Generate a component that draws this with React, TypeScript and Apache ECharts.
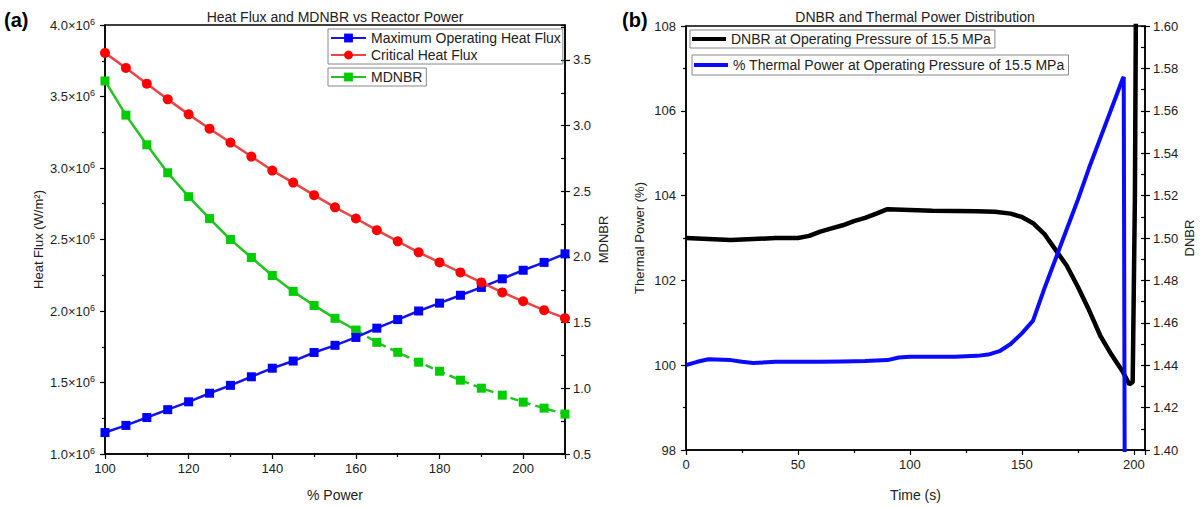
import React, { useEffect, useRef } from "react";
import * as echarts from "echarts";

// ---------- Panel (a) data ----------
const powerPct = [100, 105, 110, 115, 120, 125, 130, 135, 140, 145, 150, 155, 160, 165, 170, 175, 180, 185, 190, 195, 200, 205, 210];
const maxOpHeatFlux = [1.15e6, 1.2e6, 1.255e6, 1.31e6, 1.365e6, 1.425e6, 1.48e6, 1.54e6, 1.6e6, 1.65e6, 1.71e6, 1.76e6, 1.815e6, 1.88e6, 1.94e6, 2.0e6, 2.055e6, 2.11e6, 2.165e6, 2.225e6, 2.285e6, 2.34e6, 2.4e6];
const criticalHeatFlux = [3.805e6, 3.7e6, 3.59e6, 3.48e6, 3.375e6, 3.275e6, 3.178e6, 3.08e6, 2.982e6, 2.898e6, 2.81e6, 2.725e6, 2.647e6, 2.565e6, 2.487e6, 2.41e6, 2.34e6, 2.27e6, 2.2e6, 2.13e6, 2.068e6, 2.006e6, 1.95e6];
const mdnbr = [3.34, 3.08, 2.854, 2.641, 2.459, 2.292, 2.133, 1.996, 1.859, 1.738, 1.631, 1.533, 1.442, 1.35, 1.274, 1.199, 1.13, 1.062, 1.001, 0.948, 0.895, 0.849, 0.804];
const mdnbrDashedFrom = 160;

// ---------- Panel (b) data ----------
const dnbrTime = [0, 10, 20, 30, 40, 50, 55, 60, 65, 70, 75, 80, 85, 90, 100, 110, 120, 130, 138, 145, 150, 155, 160, 165, 170, 175, 180, 185, 190, 195, 198, 199.5, 200.5, 201];
const dnbrValues = [1.5, 1.4995, 1.499, 1.4995, 1.5, 1.5, 1.501, 1.503, 1.5045, 1.506, 1.508, 1.5095, 1.5115, 1.5136, 1.5132, 1.5128, 1.5127, 1.5126, 1.5124, 1.5115, 1.5099, 1.507, 1.502, 1.4945, 1.487, 1.477, 1.466, 1.454, 1.445, 1.437, 1.431, 1.432, 1.52, 1.62];
const thermalTime = [0, 5, 10, 20, 25, 30, 40, 50, 60, 70, 80, 90, 95, 100, 110, 120, 130, 135, 140, 145, 150, 155, 160, 165, 170, 175, 180, 185, 190, 195, 195.5, 196];
const thermalPower = [100.0, 100.08, 100.14, 100.12, 100.08, 100.05, 100.08, 100.08, 100.08, 100.09, 100.1, 100.12, 100.18, 100.2, 100.2, 100.2, 100.22, 100.25, 100.33, 100.5, 100.75, 101.05, 101.8, 102.5, 103.2, 103.9, 104.65, 105.35, 106.05, 106.75, 106.8, 96.0];

const FONT = "'Liberation Sans', Arial, sans-serif";
const TXT = "#222";

function pairs(xs: number[], ys: number[]) {
  return xs.map((x, i) => [x, ys[i]]);
}

export default function App() {
  const ref = useRef<HTMLDivElement>(null);

  useEffect(() => {
    document.body.style.margin = "0";
    if (!ref.current) return;
    const chart = echarts.init(ref.current, null, { renderer: "svg" });

    const mdnbrSolid = pairs(powerPct, mdnbr).filter((p) => p[0] <= mdnbrDashedFrom);
    const mdnbrDashed = pairs(powerPct, mdnbr).filter((p) => p[0] >= mdnbrDashedFrom);

    const axisLine = { show: true, lineStyle: { color: "#000", width: 1.5 } };
    const label = (fmt: any, extra: any = {}) => ({
      fontSize: 13,
      color: TXT,
      fontFamily: FONT,
      formatter: fmt,
      ...extra,
    });
    const nameStyle = (size: number) => ({ fontSize: size, color: TXT, fontFamily: FONT });

    const option: any = {
      animation: false,
      backgroundColor: "#fff",
      textStyle: { fontFamily: FONT },
      grid: [
        { left: 105, top: 25, width: 460, height: 431, show: true, borderColor: "#000", borderWidth: 1.5, backgroundColor: "transparent" },
        { left: 686, top: 26, width: 459, height: 426, show: true, borderColor: "#000", borderWidth: 1.5, backgroundColor: "transparent" },
      ],
      xAxis: [
        {
          type: "value", gridIndex: 0, min: 100, max: 210, interval: 20,
          axisLine, splitLine: { show: false },
          axisTick: { show: true, length: 5, lineStyle: { color: "#000", width: 1.2 } },
          minorTick: { show: true, splitNumber: 2, length: 3, lineStyle: { color: "#000", width: 1.2 } },
          axisLabel: label((v: number) => String(v), { showMaxLabel: false, margin: 8 }),
          name: "% Power", nameLocation: "middle", nameGap: 34, nameTextStyle: nameStyle(14),
        },
        {
          type: "value", gridIndex: 1, min: 0, max: 205, interval: 50,
          axisLine, splitLine: { show: false },
          axisTick: { show: true, length: 5, lineStyle: { color: "#000", width: 1.2 } },
          minorTick: { show: true, splitNumber: 2, length: 3, lineStyle: { color: "#000", width: 1.2 } },
          axisLabel: label((v: number) => String(v), { showMaxLabel: false, margin: 8 }),
          name: "Time (s)", nameLocation: "middle", nameGap: 38, nameTextStyle: nameStyle(14),
        },
      ],
      yAxis: [
        {
          type: "value", gridIndex: 0, position: "left", min: 1e6, max: 4e6, interval: 0.5e6,
          axisLine, splitLine: { show: false },
          axisTick: { show: true, length: 5, lineStyle: { color: "#000", width: 1.2 } },
          minorTick: { show: true, splitNumber: 2, length: 3, lineStyle: { color: "#000", width: 1.2 } },
          axisLabel: label((v: number) => `{b|${(v / 1e6).toFixed(1)}×10}{s|6}`, {
            margin: 10,
            rich: {
              b: { fontSize: 13, color: TXT, fontFamily: FONT, lineHeight: 16 },
              s: { fontSize: 9, color: TXT, fontFamily: FONT, verticalAlign: "top", lineHeight: 10 },
            },
          }),
          name: "Heat Flux (W/m²)", nameLocation: "middle", nameGap: 60, nameTextStyle: nameStyle(13),
        },
        {
          type: "value", gridIndex: 0, position: "right", min: 0.5, max: 3.766, interval: 0.5,
          axisLine, splitLine: { show: false },
          axisTick: { show: true, length: 5, lineStyle: { color: "#000", width: 1.2 } },
          axisLabel: label((v: number) => v.toFixed(1), { showMaxLabel: false, margin: 8 }),
          name: "MDNBR", nameLocation: "middle", nameGap: 32, nameTextStyle: nameStyle(13),
        },
        {
          type: "value", gridIndex: 0, position: "right", min: 0.5, max: 3.766, interval: 0.25,
          axisLine: { show: false }, splitLine: { show: false },
          axisTick: { show: true, inside: true, length: 4, lineStyle: { color: "#000", width: 1.2 } },
          axisLabel: { show: false },
        },
        {
          type: "value", gridIndex: 1, position: "left", min: 98, max: 108, interval: 2,
          axisLine, splitLine: { show: false },
          axisTick: { show: true, length: 5, lineStyle: { color: "#000", width: 1.2 } },
          minorTick: { show: true, splitNumber: 2, length: 3, lineStyle: { color: "#000", width: 1.2 } },
          axisLabel: label((v: number) => String(v), { margin: 10 }),
          name: "Thermal Power (%)", nameLocation: "middle", nameGap: 40, nameTextStyle: nameStyle(13),
        },
        {
          type: "value", gridIndex: 1, position: "right", min: 1.4, max: 1.6, interval: 0.02,
          axisLine, splitLine: { show: false },
          axisTick: { show: true, length: 5, lineStyle: { color: "#000", width: 1.2 } },
          axisLabel: label((v: number) => v.toFixed(2), { margin: 8 }),
          name: "DNBR", nameLocation: "middle", nameGap: 38, nameTextStyle: nameStyle(13),
        },
        {
          type: "value", gridIndex: 1, position: "right", min: 1.4, max: 1.6, interval: 0.01,
          axisLine: { show: false }, splitLine: { show: false },
          axisTick: { show: true, inside: true, length: 4, lineStyle: { color: "#000", width: 1.2 } },
          axisLabel: { show: false },
        },
      ],
      legend: [
        {
          left: 328, top: 29, orient: "vertical",
          data: ["Maximum Operating Heat Flux", "Critical Heat Flux"],
          borderColor: "#888", borderWidth: 1, padding: [2, 2, 2, 2],
          itemWidth: 35, itemHeight: 11, itemGap: 3,
          textStyle: { fontSize: 14, color: TXT, fontFamily: FONT },
        },
        {
          left: 328, top: 68, orient: "vertical",
          data: ["MDNBR"],
          borderColor: "#888", borderWidth: 1, padding: [2, 4, 2, 2],
          itemWidth: 35, itemHeight: 11, itemGap: 3,
          textStyle: { fontSize: 14, color: TXT, fontFamily: FONT },
        },
        {
          left: 690, top: 30, orient: "vertical",
          data: [{ name: "DNBR at Operating Pressure of 15.5 MPa", icon: "rect" }],
          borderColor: "#888", borderWidth: 1, padding: [2, 4, 2, 2],
          itemWidth: 34, itemHeight: 4, itemGap: 3,
          textStyle: { fontSize: 14, color: TXT, fontFamily: FONT },
        },
        {
          left: 692, top: 55, orient: "vertical",
          data: [{ name: "% Thermal Power at Operating Pressure of 15.5 MPa", icon: "rect" }],
          borderColor: "#888", borderWidth: 1, padding: [3, 4, 3, 2],
          itemWidth: 34, itemHeight: 4, itemGap: 3,
          textStyle: { fontSize: 14, color: TXT, fontFamily: FONT },
        },
      ],
      graphic: [
        { type: "text", x: 335, y: 17, style: { text: "Heat Flux and MDNBR vs Reactor Power", align: "center", verticalAlign: "middle", fontSize: 14, fill: TXT, fontFamily: FONT } },
        { type: "text", x: 915, y: 17, style: { text: "DNBR and Thermal Power Distribution", align: "center", verticalAlign: "middle", fontSize: 14, fill: TXT, fontFamily: FONT } },
        { type: "text", x: 4, y: 20, style: { text: "(a)", align: "left", verticalAlign: "middle", fontSize: 20, fontWeight: "bold", fill: "#000", fontFamily: FONT } },
        { type: "text", x: 622, y: 20, style: { text: "(b)", align: "left", verticalAlign: "middle", fontSize: 20, fontWeight: "bold", fill: "#000", fontFamily: FONT } },
      ],
      series: [
        {
          name: "Maximum Operating Heat Flux", type: "line", xAxisIndex: 0, yAxisIndex: 0,
          data: pairs(powerPct, maxOpHeatFlux),
          symbol: "rect", symbolSize: 9,
          lineStyle: { color: "#1414e6", width: 2.5 },
          itemStyle: { color: "#0000ff" },
          z: 3,
        },
        {
          name: "Critical Heat Flux", type: "line", xAxisIndex: 0, yAxisIndex: 0,
          data: pairs(powerPct, criticalHeatFlux),
          symbol: "circle", symbolSize: 10,
          lineStyle: { color: "#e84545", width: 2.5 },
          itemStyle: { color: "#ff0000" },
          z: 4,
        },
        {
          name: "MDNBR", type: "line", xAxisIndex: 0, yAxisIndex: 1,
          data: mdnbrSolid,
          symbol: "rect", symbolSize: 9,
          lineStyle: { color: "#22c322", width: 2.5 },
          itemStyle: { color: "#00cc00" },
          z: 2,
        },
        {
          name: "MDNBR", type: "line", xAxisIndex: 0, yAxisIndex: 1,
          data: mdnbrDashed,
          symbol: "rect", symbolSize: 9,
          lineStyle: { color: "#22c322", width: 2.5, type: [8, 5] },
          itemStyle: { color: "#00cc00" },
          z: 2,
        },
        {
          name: "DNBR at Operating Pressure of 15.5 MPa", type: "line", xAxisIndex: 1, yAxisIndex: 4,
          data: pairs(dnbrTime, dnbrValues),
          symbol: "none", clip: true,
          lineStyle: { color: "#000", width: 4.5 },
          itemStyle: { color: "#000" },
        },
        {
          name: "% Thermal Power at Operating Pressure of 15.5 MPa", type: "line", xAxisIndex: 1, yAxisIndex: 3,
          data: pairs(thermalTime, thermalPower),
          symbol: "none", clip: true,
          lineStyle: { color: "#0a0aff", width: 4 },
          itemStyle: { color: "#0a0aff" },
        },
      ],
    };

    chart.setOption(option);
    return () => chart.dispose();
  }, []);

  return <div ref={ref} style={{ width: 1200, height: 507 }} />;
}
